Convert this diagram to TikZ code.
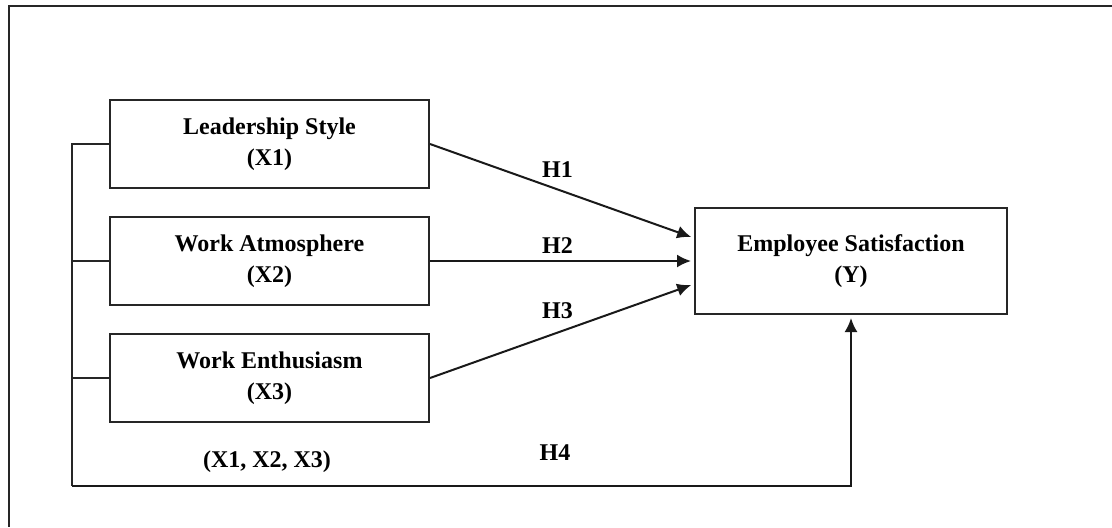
\documentclass[tikz,border=0pt]{standalone}
\usepackage{fontspec}
\setmainfont{Liberation Serif}
\usepackage{tikz}
\usetikzlibrary{arrows.meta, positioning, calc}
\tikzset{
  font=\fontsize{12}{15.5}\selectfont\bfseries,
  varblock/.style={
    rectangle, draw=black!85, line width=1pt, inner sep=0pt,
    minimum width=159.5pt, minimum height=44pt, align=center
  },
  outblock/.style={varblock, minimum width=156pt, minimum height=53pt},
  hypline/.style={
    draw=black!90, line width=1pt, shorten >=1.5pt,
    -{Latex[length=7pt, width=6.5pt]}
  },
  busline/.style={draw=black!85, line width=1pt},
  hyplabel/.style={inner sep=2pt}
}
\begin{document}
\begin{tikzpicture}[x=0.5pt, y=-0.5pt]

  \useasboundingbox (0,0) rectangle (1112,527);
  % open frame
  \draw[line width=1pt, black!85] (1112,6) -- (9,6) -- (9,527);

  % Independent variables
  \node[varblock] (x1) at (269.5,144) {Leadership Style\\(X1)};
  \node[varblock, below=13.5pt of x1] (x2) {Work Atmosphere\\(X2)};
  \node[varblock, below=13.5pt of x2] (x3) {Work Enthusiasm\\(X3)};

  % Dependent variable
  \node[outblock, right=132pt of x2] (y) {Employee Satisfaction\\(Y)};

  % Simultaneous bus
  \coordinate[left=18.5pt of x1.west] (bus1);
  \coordinate[below=31.5pt of x3.south] (low);
  \draw[busline] (x1.west) -- (bus1) -- (bus1 |- low);
  \draw[busline] (x2.west) -- (bus1 |- x2.west);
  \draw[busline] (x3.west) -- (bus1 |- x3.west);
  \draw[hypline] (bus1 |- low) -| (y)
    node[pos=0.31, above=10.5pt, hyplabel] (h4) {H4};
  \node[hyplabel, above=3.5pt] (grp) at (267,484) {(X1, X2, X3)};

  % Partial hypotheses
  \draw[hypline] (x1.east) -- ([yshift=11.5pt]y.west)
    node[pos=0.483, above=3.5pt, hyplabel] (h1) {H1};
  \draw[hypline] (x2.east) -- (y.west)
    node[pos=0.483, above=1.5pt, hyplabel] (h2) {H2};
  \draw[hypline] (x3.east) -- ([yshift=-11.5pt]y.west)
    node[pos=0.483, above=4.5pt, hyplabel] (h3) {H3};

\end{tikzpicture}
\end{document}
